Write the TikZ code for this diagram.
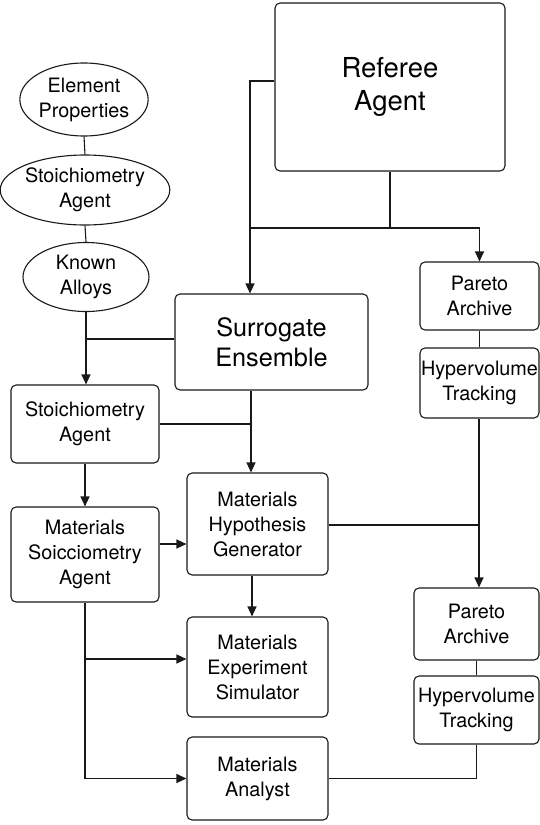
\documentclass[tikz,border=0pt]{standalone}
\usepackage{fontspec}
\setmainfont{TeX Gyre Heros}
\usetikzlibrary{arrows.meta,shapes.geometric}
\begin{document}
\begin{tikzpicture}[x=1pt,y=-1pt,
  line width=1.1pt,
  every node/.style={draw=black!90,line width=1.1pt,align=center,inner sep=0pt},
  rbox/.style={rectangle,rounded corners=5pt,font=\fontsize{19.8}{25}\selectfont},
  oval/.style={ellipse,font=\fontsize{19.8}{25}\selectfont},
  arr/.style={-{Triangle[length=10pt,width=9pt]}},
  conn/.style={draw=black!90}
]
\useasboundingbox (0,0) rectangle (540,825);
% nodes
\node[rbox,minimum width=230pt,minimum height=168pt,font=\fontsize{27.5}{33}\selectfont] (ref) at (390,87) {Referee\\Agent};
\node[rbox,minimum width=119pt,minimum height=68pt] (pa1) at (479.5,296) {Pareto\\Archive};
\node[rbox,minimum width=119pt,minimum height=70pt] (hv1) at (479.5,383) {Hypervolume\\Tracking};
\node[rbox,minimum width=125pt,minimum height=72pt] (pa2) at (476.5,624) {Pareto\\Archive};
\node[rbox,minimum width=125pt,minimum height=68pt] (hv2) at (476.5,710) {Hypervolume\\Tracking};
\node[oval,minimum width=124pt,minimum height=73pt] (ep) at (84,99.5) {Element\\Properties};
\node[oval,minimum width=132pt,minimum height=70pt] (sa) at (85,190) {Stoichiometry\\Agent};
\node[oval,minimum width=126pt,minimum height=69pt] (ka) at (86,277) {Known\\Alloys};
\node[rbox,minimum width=193pt,minimum height=96pt,font=\fontsize{25.3}{30}\selectfont] (se) at (271.5,342) {Surrogate\\Ensemble};
\node[rbox,minimum width=148pt,minimum height=78pt] (st) at (85,424) {Stoichiometry\\Agent};
\node[rbox,minimum width=148pt,minimum height=95pt] (ms) at (85,554.5) {Materials\\Soicciometry\\Agent};
\node[rbox,minimum width=141pt,minimum height=102pt] (hg) at (257.5,524) {Materials\\Hypothesis\\Generator};
\node[rbox,minimum width=141pt,minimum height=100pt] (es) at (257.5,667) {Materials\\Experiment\\Simulator};
\node[rbox,minimum width=141pt,minimum height=83pt] (an) at (257.5,778.5) {Materials\\Analyst};
% junction coordinates
\coordinate (jR) at (250,81);
\coordinate (jA) at (250,228);
\coordinate (jK) at (86,339);
\coordinate (jS) at (251,424);
\coordinate (jH) at (479,525);
\coordinate (jE) at (84,659);
% connectors
\draw[conn,arr] (ref.west |- jR) -- (jR) -- (jR |- se.north);
\draw[conn] (ref.south) -- (ref.south |- jA) -- (jA);
\draw[conn,arr] (ref.south |- jA) -| (pa1.north);
\draw[conn] (pa1.south) -- (hv1.north);
\draw[conn] (ep.south) -- (sa.north);
\draw[conn] (sa.south) -- (ka.north);
\draw[conn,arr] (ka.south) -- (ka.south |- st.north);
\draw[conn] (jK) -- (jK -| se.west);
\draw[conn,arr] (jS |- se.south) -- (jS |- hg.north);
\draw[conn] (st.east |- jS) -- (jS);
\draw[conn,arr] (st.south) -- (ms.north);
\draw[conn,arr] (ms.east |- 0,544) -- (hg.west |- 0,544);
\draw[conn,arr] (252,0 |- hg.south) -- (252,0 |- es.north);
\draw[conn] (hg.east |- jH) -- (jH);
\draw[conn,arr] (jH |- hv1.south) -- (jH |- pa2.north);
\draw[conn] (pa2.south) -- (hv2.north);
\draw[conn] (hv2.south) |- (an.east);
\draw[conn,arr] (ms.south) |- (an.west);
\draw[conn,arr] (jE) -- (jE -| es.west);
\end{tikzpicture}
\end{document}
